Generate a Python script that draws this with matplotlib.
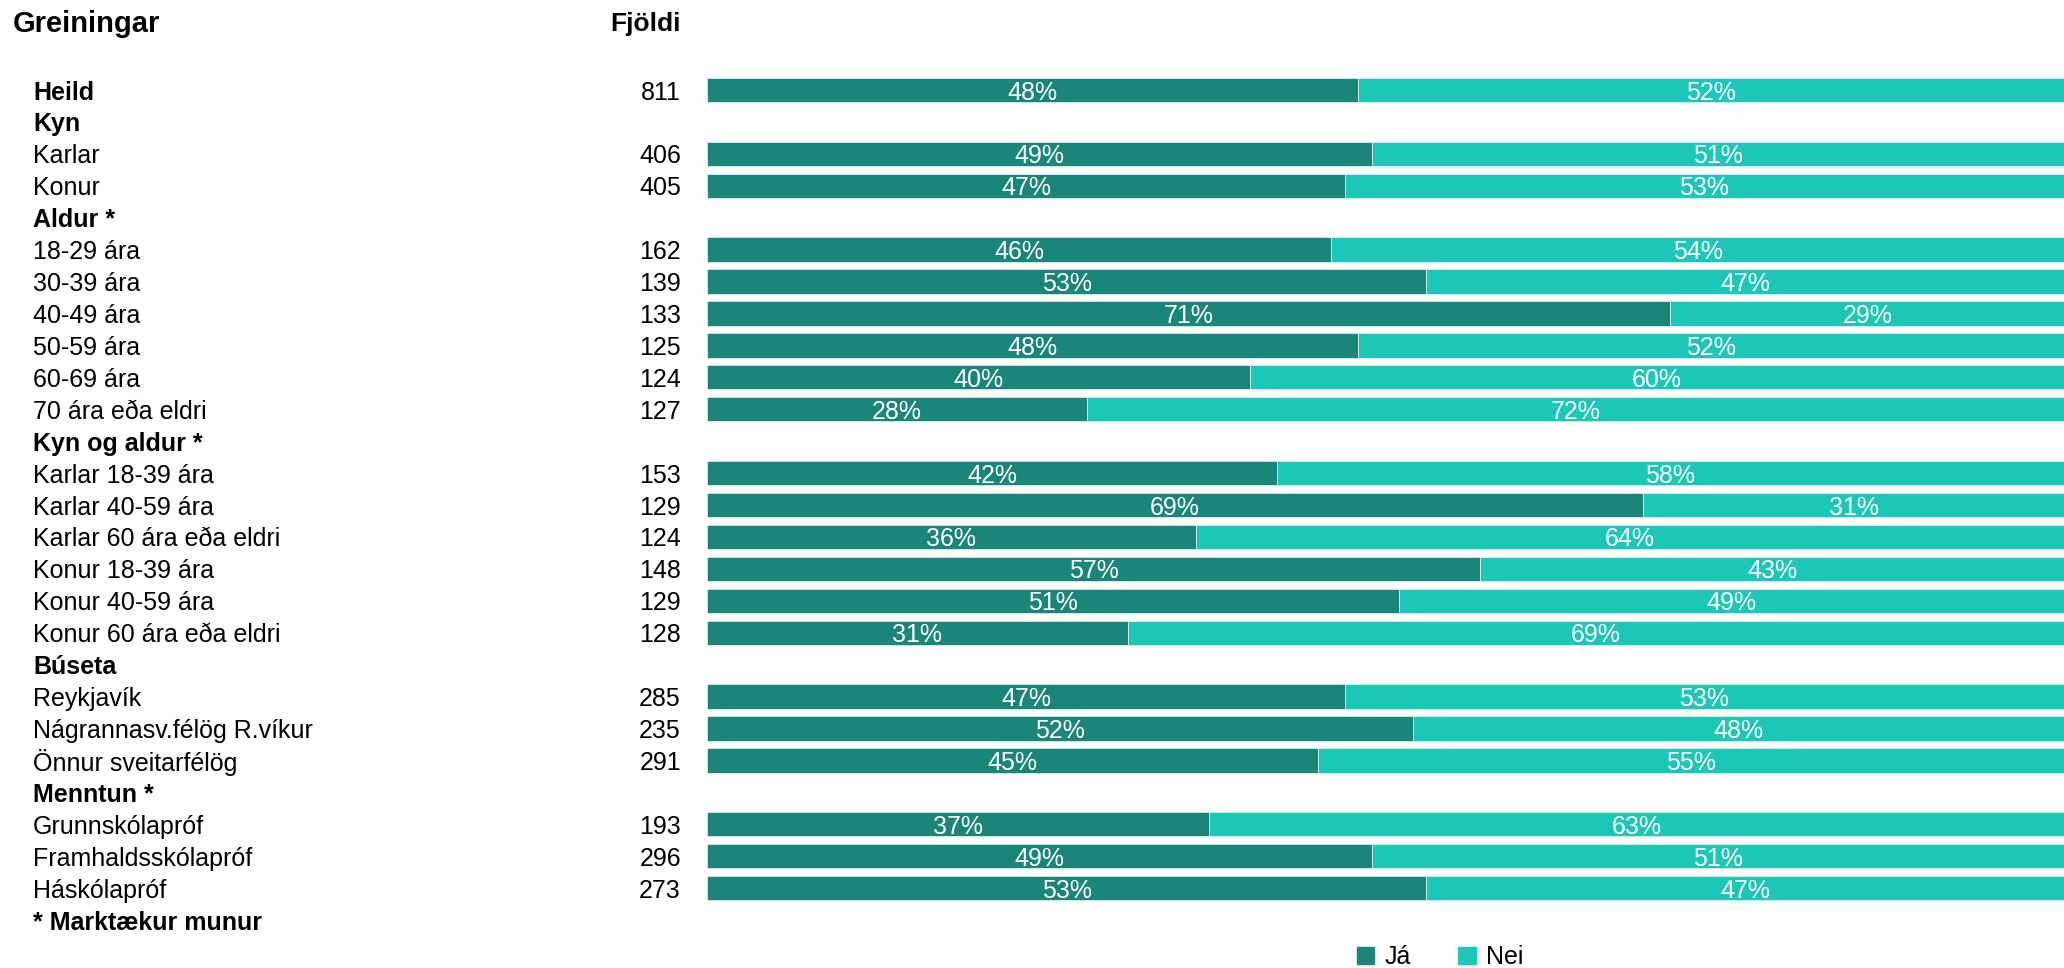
import numpy as np
import matplotlib.pyplot as plt
from matplotlib.transforms import blended_transform_factory
from matplotlib.patches import Patch

plt.rcParams['font.family'] = ['Liberation Sans', 'DejaVu Sans']

# rows of the chart, None for header rows
labels = ['Heild', 'Kyn', 'Karlar', 'Konur', 'Aldur *', '18-29 ára', '30-39 ára',
          '40-49 ára', '50-59 ára', '60-69 ára', '70 ára eða eldri', 'Kyn og aldur *',
          'Karlar 18-39 ára', 'Karlar 40-59 ára', 'Karlar 60 ára eða eldri',
          'Konur 18-39 ára', 'Konur 40-59 ára', 'Konur 60 ára eða eldri', 'Búseta',
          'Reykjavík', 'Nágrannasv.félög R.víkur', 'Önnur sveitarfélög', 'Menntun *',
          'Grunnskólapróf', 'Framhaldsskólapróf', 'Háskólapróf', '* Marktækur munur']
bold = ['Heild', 'Kyn', 'Aldur *', 'Kyn og aldur *', 'Búseta', 'Menntun *', '* Marktækur munur']
counts = [811, None, 406, 405, None, 162, 139, 133, 125, 124, 127, None,
          153, 129, 124, 148, 129, 128, None, 285, 235, 291, None, 193, 296, 273, None]
ja = [48, None, 49, 47, None, 46, 53, 71, 48, 40, 28, None,
      42, 69, 36, 57, 51, 31, None, 47, 52, 45, None, 37, 49, 53, None]
nei = [52, None, 51, 53, None, 54, 47, 29, 52, 60, 72, None,
       58, 31, 64, 43, 49, 69, None, 53, 48, 55, None, 63, 51, 47, None]

c_ja = '#1a8579'
c_nei = '#1cc7b8'

W, H = 2064, 968
fig = plt.figure(figsize=(W / 100, H / 100), dpi=100)
ax = fig.add_axes([707 / W, 1 - 936 / H, 1 - 707 / W, 862 / H])

n = len(labels)
ax.set_ylim(n - 0.5, -0.5)
ax.set_xlim(0, 100)
ax.axis('off')

tr = blended_transform_factory(fig.transFigure, ax.transData)
fs = 18
dy = 0.08  # text sits a little lower than bar centre

for i, lab in enumerate(labels):
    ax.text(33 / W, i + dy, lab, transform=tr, ha='left', va='center', fontsize=fs,
            fontweight='bold' if lab in bold else 'normal')
    if counts[i] is not None:
        ax.text(681 / W, i + dy, str(counts[i]), transform=tr, ha='right', va='center', fontsize=fs)
    if ja[i] is not None:
        ax.barh(i, ja[i], left=0, height=0.76, color=c_ja, edgecolor='#d8efec', linewidth=0.6)
        ax.barh(i, nei[i], left=ja[i], height=0.76, color=c_nei, edgecolor='#d8efec', linewidth=0.6)
        ax.text(ja[i] / 2, i + dy, f'{ja[i]}%', ha='center', va='center', color='white', fontsize=fs)
        ax.text(ja[i] + nei[i] / 2, i + dy, f'{nei[i]}%', ha='center', va='center', color='white', fontsize=fs)

fig.text(13 / W, 1 - 24 / H, 'Greiningar', ha='left', va='center', fontsize=21, fontweight='bold')
fig.text(681 / W, 1 - 24 / H, 'Fjöldi', ha='right', va='center', fontsize=19, fontweight='bold')

handles = [Patch(color=c_ja, label='Já'), Patch(color=c_nei, label='Nei')]
fig.legend(handles=handles, loc='center', bbox_to_anchor=(1440 / W, 1 - 957 / H), ncol=2,
           frameon=False, fontsize=fs, handlelength=0.7, handleheight=0.7,
           handletextpad=0.4, columnspacing=1.9)

fig.savefig('out.png', dpi=100)
